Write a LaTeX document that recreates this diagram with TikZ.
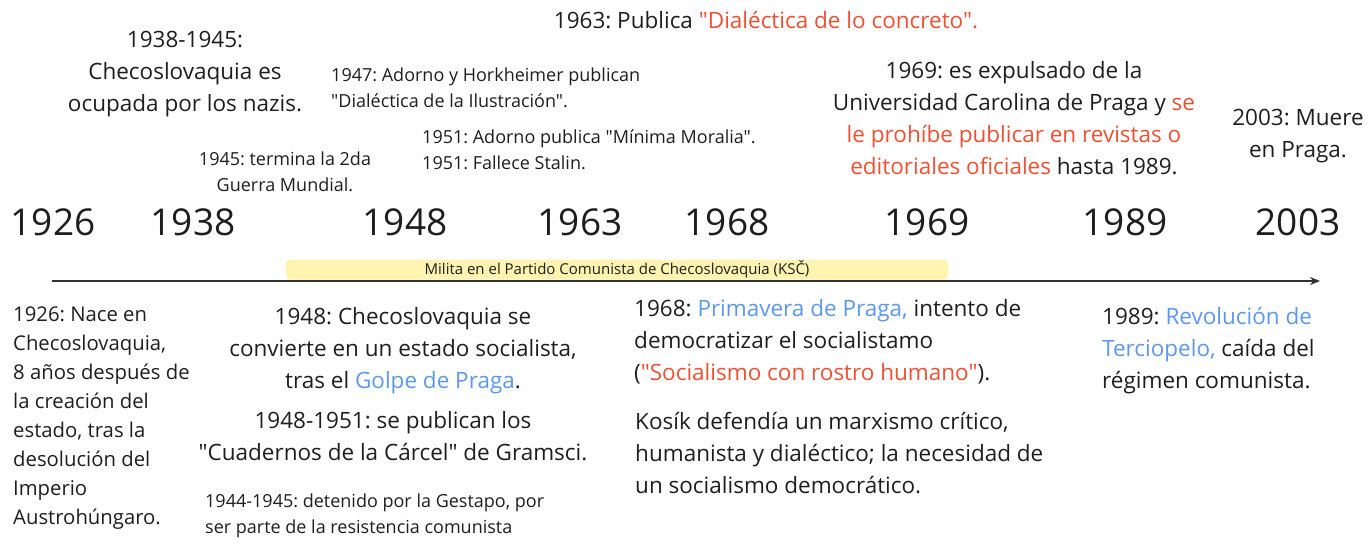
\documentclass[tikz,border=0pt]{standalone}
\usepackage{fontspec}
\setmainfont{Open Sans}[Ligatures=TeXOff]
\usetikzlibrary{arrows.meta,positioning}
\definecolor{kosikRed}{RGB}{240,80,50}
\definecolor{kosikBlue}{RGB}{92,152,238}
\definecolor{kosikYellow}{RGB}{255,244,176}
\definecolor{kosikText}{RGB}{30,30,30}
\definecolor{kosikAxis}{RGB}{50,50,50}
\frenchspacing

\begin{document}
\begin{tikzpicture}[
  x=1pt, y=-1pt,
  every node/.style={inner sep=0pt, text=kosikText},
  year/.style={font=\fontsize{37}{37}\selectfont},
  bignote/.style={font=\fontsize{22.5}{32}\selectfont},
  leftnote/.style={
    font=\fontsize{20.3}{29}\selectfont,
    align=left,
    anchor=north west
  },
  smallnote/.style={font=\fontsize{18}{26}\selectfont},
  band/.style={
    fill=kosikYellow,
    rounded corners=4pt,
    minimum width=662pt,
    minimum height=20pt,
    font=\fontsize{15}{15}\selectfont
  },
  axis/.style={-{Stealth[length=10pt,width=8pt]},line width=1.8pt,kosikAxis}
]
  \useasboundingbox (0,0) rectangle (1368,559);

  % events above the line
  \node[bignote,anchor=base] (publica) at (766,29)
    {1963: Publica \textcolor{kosikRed}{"Dialéctica de lo concreto".}};
  \node[bignote,align=center,anchor=north] (ocupada) at (185,31)
    {1938-1945:\\Checoslovaquia es\\ocupada por los nazis.};
  \node[smallnote,align=left,anchor=north west] (adorno47) at (331,68)
    {1947: Adorno y Horkheimer publican\\"Dialéctica de la Ilustración".};
  \node[smallnote,align=left,anchor=north west] (adorno51) at (422,130)
    {1951: Adorno publica "Mínima Moralia".\\1951: Fallece Stalin.};
  \node[smallnote,align=center,anchor=north] (guerra) at (285,152)
    {1945: termina la 2da\\Guerra Mundial.};
  \node[bignote,align=center,anchor=north] (expulsado) at (1014,61)
    {1969: es expulsado de la\\
     Universidad Carolina de Praga y \textcolor{kosikRed}{se}\\
     \textcolor{kosikRed}{le prohíbe publicar en revistas o}\\
     \textcolor{kosikRed}{editoriales oficiales} hasta 1989.};
  \node[bignote,align=center,anchor=north] (muere) at (1298,109)
    {2003: Muere\\en Praga.};

  % years
  \foreach \yr/\xx in {1926/53,1938/193,1948/405,1963/580,
                       1968/727,1969/927,1989/1125,2003/1298}
    \node[year] (y\yr) at (\xx,222) {\yr};

  % time axis
  \coordinate (axisstart) at (52,281);
  \coordinate (axisend) at (1320,281);
  \node[band] (ksc) at (617,269.5)
    {Milita en el Partido Comunista de Checoslovaquia (KSČ)};
  \draw[axis] (axisstart) -- (axisend);

  % events below the line
  \node[leftnote] (nace) at (13,307)
    {1926: Nace en\\Checoslovaquia,\\8 años después de\\la creación del\\
     estado, tras la\\desolución del\\Imperio\\Austrohúngaro.};
  \node[bignote,align=center,anchor=north] (golpe) at (403,307)
    {1948: Checoslovaquia se\\convierte en un estado socialista,\\
     tras el \textcolor{kosikBlue}{Golpe de Praga}.};
  \node[bignote,align=center,anchor=north] (gramsci) at (393,411)
    {1948-1951: se publican los\\"Cuadernos de la Cárcel" de Gramsci.};
  \node[smallnote,align=left,anchor=north west] (gestapo) at (205,494)
    {1944-1945: detenido por la Gestapo, por\\ser parte de la resistencia comunista};
  \node[bignote,align=left,anchor=north west] (primavera) at (634,299)
    {1968: \textcolor{kosikBlue}{Primavera de Praga,} intento de\\
     democratizar el socialistamo\\
     (\textcolor{kosikRed}{"Socialismo con rostro humano"}).};
  \node[bignote,align=left,anchor=north west] (kosik) at (635,412)
    {Kosík defendía un marxismo crítico,\\
     humanista y dialéctico; la necesidad de\\
     un socialismo democrático.};
  \node[bignote,align=left,anchor=north west] (terciopelo) at (1102,307)
    {1989: \textcolor{kosikBlue}{Revolución de}\\
     \textcolor{kosikBlue}{Terciopelo,} caída del\\
     régimen comunista.};
\end{tikzpicture}
\end{document}
